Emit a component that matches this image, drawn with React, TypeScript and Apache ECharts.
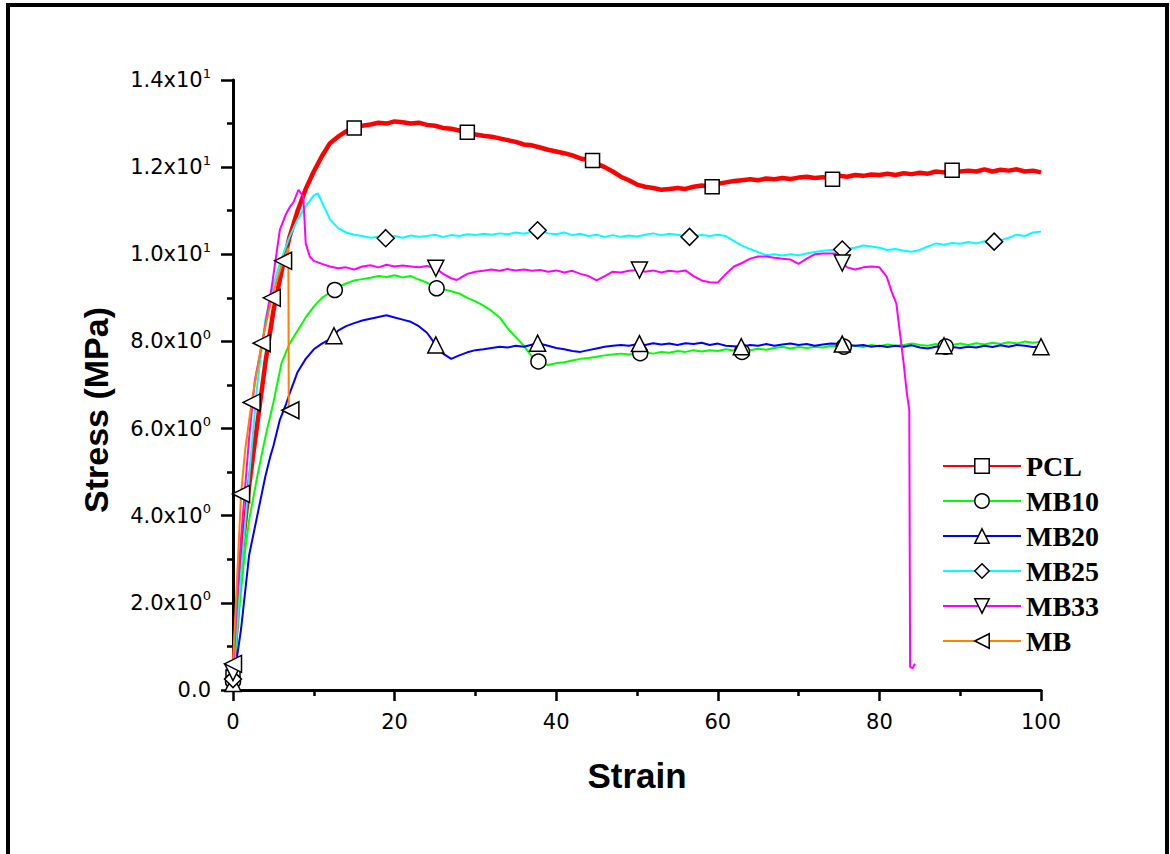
import React, { useEffect, useRef } from "react";
import * as echarts from "echarts";

// ---------- data (strain, stress in MPa) ----------
const PCL: [number, number][] = [
  [0, 0.3], [1, 3.0], [2, 4.7], [3, 6.1], [4, 7.5], [5, 8.7], [6, 9.6], [7, 10.4], [8, 11.0], [9, 11.5],
  [10, 11.9], [11, 12.25], [12, 12.55], [13, 12.7], [14, 12.82], [15, 12.9], [16, 12.95], [17, 12.98], [18, 13.02], [19, 13.0],
  [20, 13.05], [21, 13.03], [22, 13.0], [23, 13.02], [24, 12.97], [25, 12.95], [26, 12.9], [27, 12.88], [28, 12.84], [29, 12.8],
  [30, 12.75], [31, 12.72], [32, 12.7], [33, 12.66], [34, 12.62], [35, 12.58], [36, 12.52], [37, 12.5], [38, 12.45], [39, 12.4],
  [40, 12.36], [41, 12.32], [42, 12.27], [43, 12.2], [44.5, 12.15], [45, 12.08], [46, 12.0], [47, 11.9], [48, 11.78], [49, 11.7],
  [50, 11.6], [51, 11.55], [52, 11.52], [53, 11.48], [54, 11.5], [55, 11.52], [56, 11.5], [57, 11.55], [58, 11.58], [59.3, 11.55],
  [60, 11.62], [61, 11.65], [62, 11.68], [63, 11.7], [64, 11.72], [65, 11.7], [66, 11.74], [67, 11.72], [68, 11.75], [69, 11.73],
  [70, 11.76], [71, 11.78], [72, 11.75], [73, 11.77], [74.2, 11.72], [75, 11.8], [76, 11.78], [77, 11.82], [78, 11.8], [79, 11.83],
  [80, 11.82], [81, 11.85], [82, 11.82], [83, 11.86], [84, 11.84], [85, 11.87], [86, 11.85], [87, 11.9], [88, 11.88], [89, 11.93],
  [90, 11.9], [91, 11.92], [92, 11.9], [93, 11.95], [94, 11.9], [95, 11.94], [96, 11.92], [97, 11.95], [98, 11.9], [99, 11.92], [100, 11.88],
];
const PCL_MARKS = [0, 15, 29, 44.5, 59.3, 74.2, 89];

const MB10: [number, number][] = [
  [0, 0.2], [0.5, 1.3], [1, 2.3], [1.5, 3.2], [2, 3.9], [3, 4.9], [4, 5.8], [5, 6.6], [6, 7.5], [7, 7.95], [8, 8.25], [9, 8.55],
  [10, 8.8], [11, 9.0], [12, 9.12], [12.6, 9.18], [13, 9.25], [14, 9.33], [15, 9.4], [16, 9.43], [17, 9.46], [18, 9.5], [19, 9.48],
  [20, 9.52], [21, 9.47], [22, 9.5], [23, 9.42], [24, 9.35], [25.2, 9.22], [26, 9.2], [27, 9.15], [28, 9.1], [29, 9.0],
  [30, 8.92], [31, 8.82], [32, 8.7], [33, 8.55], [34, 8.3], [35, 8.1], [36, 7.9], [37, 7.65], [37.8, 7.54], [39, 7.46],
  [40, 7.5], [41, 7.52], [42, 7.56], [43, 7.6], [44, 7.62], [45, 7.65], [46, 7.68], [47, 7.7], [48, 7.72], [49, 7.7],
  [50.4, 7.73], [51, 7.75], [52, 7.72], [53, 7.76], [54, 7.74], [55, 7.78], [56, 7.76], [57, 7.8], [58, 7.77], [59, 7.8],
  [60, 7.78], [61, 7.82], [62, 7.79], [63, 7.76], [64, 7.8], [65, 7.83], [66, 7.81], [67, 7.85], [68, 7.88], [69, 7.84],
  [70, 7.87], [71, 7.85], [72, 7.88], [73, 7.86], [74, 7.9], [75.6, 7.88], [77, 7.9], [78, 7.87], [79, 7.92],
  [80, 7.89], [81, 7.93], [82, 7.9], [83, 7.92], [84, 7.95], [85, 7.92], [86, 7.9], [87, 7.94], [88.2, 7.88], [89, 7.92],
  [90, 7.95], [91, 7.92], [92, 7.96], [93, 7.93], [94, 7.97], [95, 7.94], [96, 7.98], [97, 7.95], [98, 8.0], [99, 7.97], [100, 7.99],
];
const MB10_MARKS = [0, 12.6, 25.2, 37.8, 50.4, 63, 75.6, 88.2];

const MB20: [number, number][] = [
  [0, 0.15], [0.5, 0.76], [1, 1.4], [2, 3.1], [3, 4.0], [4, 4.9], [4.6, 5.35], [5, 5.6], [5.8, 6.2], [6.6, 6.58], [7, 6.8], [8, 7.3], [9, 7.6],
  [10, 7.82], [11, 7.95], [12, 8.05], [12.5, 8.13], [13, 8.25], [14, 8.35], [15, 8.42], [16, 8.48], [17, 8.52], [18, 8.56], [19, 8.6],
  [20, 8.55], [21, 8.5], [22, 8.45], [23, 8.35], [24, 8.2], [25.1, 7.92], [26, 7.72], [27, 7.6], [28, 7.68], [29, 7.75],
  [30, 7.8], [31, 7.82], [32, 7.85], [33, 7.88], [34, 7.86], [35, 7.9], [36, 7.88], [37.7, 7.96], [39, 7.9],
  [40, 7.85], [41, 7.82], [42, 7.78], [43, 7.76], [44, 7.8], [45, 7.84], [46, 7.88], [47, 7.9], [48, 7.92], [49, 7.9],
  [50.3, 7.95], [51, 7.92], [52, 7.96], [53, 7.93], [54, 7.95], [55, 7.92], [56, 7.96], [57, 7.94], [58, 7.97], [59, 7.92],
  [60, 7.95], [61, 7.9], [62.9, 7.88], [64, 7.92], [65, 7.9], [66, 7.94], [67, 7.9], [68, 7.93], [69, 7.95],
  [70, 7.92], [71, 7.94], [72, 7.9], [73, 7.93], [74, 7.95], [75.4, 7.94], [77, 7.9], [78, 7.92], [79, 7.88],
  [80, 7.9], [81, 7.87], [82, 7.9], [83, 7.88], [84, 7.91], [85, 7.86], [86, 7.84], [87, 7.88], [88, 7.9], [89, 7.87],
  [90, 7.85], [91, 7.88], [92, 7.86], [93, 7.9], [94, 7.87], [95, 7.91], [96, 7.88], [97, 7.92], [98, 7.9], [99, 7.87], [100, 7.88],
];
const MB20_MARKS = [0, 12.5, 25.1, 37.7, 50.3, 62.9, 75.4, 88, 100];

const MB25: [number, number][] = [
  [0, 0.25], [0.5, 1.5], [1, 2.7], [2, 4.9], [3, 7.0], [4, 8.5], [5, 9.3], [6, 9.9], [7, 10.4], [8, 10.8], [9, 11.1],
  [10, 11.35], [10.5, 11.4], [11, 11.2], [12, 10.8], [13, 10.6], [14, 10.5], [15, 10.45], [16, 10.42], [17, 10.38], [18, 10.4], [18.9, 10.37],
  [20, 10.42], [21, 10.38], [22, 10.43], [23, 10.4], [24, 10.42], [25, 10.45], [26, 10.4], [27, 10.44], [28, 10.42], [29, 10.46],
  [30, 10.44], [31, 10.47], [32, 10.45], [33, 10.48], [34, 10.46], [35, 10.5], [36, 10.47], [37.7, 10.55], [39, 10.48],
  [40, 10.46], [41, 10.5], [42, 10.44], [43, 10.47], [44, 10.42], [45, 10.45], [46, 10.4], [47, 10.44], [48, 10.4], [49, 10.43],
  [50, 10.41], [51, 10.45], [52, 10.48], [53, 10.44], [54, 10.47], [55, 10.45], [56.5, 10.4], [58, 10.44], [59, 10.42],
  [60, 10.45], [61, 10.42], [62, 10.3], [63, 10.2], [64, 10.12], [65, 10.05], [66, 9.98], [67, 10.0], [68, 9.97], [69, 10.0],
  [70, 9.98], [71, 10.02], [72, 10.05], [73, 10.08], [74, 10.1], [75.4, 10.11], [77, 10.15], [78, 10.2], [79, 10.18],
  [80, 10.15], [81, 10.1], [82, 10.12], [83, 10.08], [84, 10.06], [85, 10.1], [86, 10.18], [87, 10.25], [88, 10.22], [89, 10.26],
  [90, 10.24], [91, 10.28], [92, 10.25], [93, 10.3], [94.2, 10.29], [95, 10.32], [96, 10.38], [97, 10.45], [98, 10.42], [99, 10.5], [100, 10.52],
];
const MB25_MARKS = [0, 18.9, 37.7, 56.5, 75.4, 94.2];

const MB33: [number, number][] = [
  [0, 0.4], [0.5, 2.0], [1, 3.5], [2, 5.8], [2.7, 7.1], [3.75, 8.1], [4.8, 9.26], [5.8, 10.56], [6.5, 10.9], [7.05, 11.09], [7.5, 11.2],
  [8.1, 11.48], [8.7, 11.32], [9.0, 10.25], [9.5, 9.95], [10, 9.85], [11, 9.78], [12, 9.72], [13, 9.68], [14, 9.7], [15, 9.65],
  [16, 9.72], [17, 9.75], [18, 9.7], [19, 9.76], [20, 9.72], [21, 9.74], [22, 9.72], [23, 9.7], [24, 9.73], [25.1, 9.68],
  [26, 9.55], [27, 9.45], [27.7, 9.41], [28.5, 9.5], [29, 9.55], [30, 9.6], [31, 9.62], [32, 9.65], [33, 9.62], [34, 9.66],
  [35, 9.63], [36, 9.65], [37, 9.62], [38, 9.64], [39, 9.6], [40, 9.63], [41, 9.58], [42, 9.62], [43, 9.55], [44, 9.5],
  [45, 9.4], [46, 9.5], [47, 9.6], [48, 9.58], [49, 9.62], [50.3, 9.64], [51, 9.6], [52, 9.63], [53, 9.58], [54, 9.62],
  [55, 9.6], [56, 9.63], [57, 9.5], [58, 9.4], [59, 9.36], [60, 9.35], [61, 9.55], [62, 9.72], [63, 9.8], [64, 9.9],
  [65, 9.95], [66, 9.95], [67, 9.92], [68, 9.9], [69, 9.88], [70, 9.78], [71, 9.9], [72, 10.0], [73, 10.02], [74.5, 10.02],
  [75.4, 9.8], [76, 9.7], [77, 9.65], [78, 9.7], [79, 9.72], [80, 9.7], [80.9, 9.49], [81.5, 9.15], [82.1, 8.87], [82.5, 8.26],
  [83.0, 7.5], [83.4, 6.81], [83.7, 6.43], [83.8, 0.53], [84.1, 0.5], [84.4, 0.6],
];
const MB33_MARKS = [0, 25.1, 50.3, 75.4];

const MB: [number, number][] = [
  [0, 0.6], [1.0, 4.5], [1.5, 5.5], [2.3, 6.6], [3.0, 7.35], [3.55, 7.96], [4.2, 8.5], [4.8, 9.0], [5.5, 9.45], [6.2, 9.85],
  [6.85, 10.15], [6.9, 6.5], [7.1, 6.42],
];
const MB_MARKS = [0, 1.0, 2.3, 3.55, 4.8, 6.2, 7.1];

const SERIES_NAMES = ["PCL", "MB10", "MB20", "MB25", "MB33", "MB"];
const X_TICKS = [0, 20, 40, 60, 80, 100];
const Y_TICKS = [0, 2, 4, 6, 8, 10, 12, 14];

// ---------- helpers ----------
function buildData(points: [number, number][], marks: number[]) {
  return points.map(([x, y]) =>
    marks.includes(x) ? { value: [x, y] } : { value: [x, y], symbol: "none" }
  );
}

function yLabel(v: number): string {
  if (v === 0) return "{m|0.0}";
  const e = Math.floor(Math.log10(v) + 1e-9);
  const m = v / Math.pow(10, e);
  return `{m|${m.toFixed(1)}x10}{e|${e}}`;
}

const TICK_FONT = "DejaVu Sans, Liberation Sans, Arial";
const markerStyle = { color: "#ffffff", borderColor: "#000000", borderWidth: 1.5 };

export default function App() {
  const ref = useRef<HTMLDivElement>(null);

  useEffect(() => {
    document.body.style.margin = "0";
    if (!ref.current) return;
    const chart = echarts.init(ref.current, undefined, { renderer: "svg" });

    const defs = [
      { name: SERIES_NAMES[0], pts: PCL, marks: PCL_MARKS, color: "#ff0000", symbol: "rect", size: 14, rotate: 0, width: 4.5 },
      { name: SERIES_NAMES[1], pts: MB10, marks: MB10_MARKS, color: "#00ff00", symbol: "circle", size: 15, rotate: 0, width: 2 },
      { name: SERIES_NAMES[2], pts: MB20, marks: MB20_MARKS, color: "#0000ff", symbol: "triangle", size: 16, rotate: 0, width: 2 },
      { name: SERIES_NAMES[3], pts: MB25, marks: MB25_MARKS, color: "#00ffff", symbol: "diamond", size: 17, rotate: 0, width: 2 },
      { name: SERIES_NAMES[4], pts: MB33, marks: MB33_MARKS, color: "#ff00ff", symbol: "triangle", size: 16, rotate: 180, width: 2 },
      { name: SERIES_NAMES[5], pts: MB, marks: MB_MARKS, color: "#ff8000", symbol: "triangle", size: 17, rotate: 90, width: 2 },
    ];

    const series = defs.map((d) => ({
      type: "line",
      name: d.name,
      data: buildData(d.pts, d.marks),
      symbol: d.symbol,
      symbolSize: d.size,
      symbolRotate: d.rotate,
      showSymbol: true,
      lineStyle: { color: d.color, width: d.width },
      itemStyle: markerStyle,
      emphasis: { disabled: true },
    }));

    chart.setOption({
      animation: false,
      backgroundColor: "#ffffff",
      grid: { left: 233, right: 129, top: 80, bottom: 164, containLabel: false },
      xAxis: {
        type: "value",
        min: X_TICKS[0],
        max: X_TICKS[X_TICKS.length - 1],
        interval: 20,
        name: "Strain",
        nameLocation: "middle",
        nameGap: 68,
        nameTextStyle: { fontFamily: "Liberation Sans, Arial", fontWeight: "bold", fontSize: 35, color: "#000" },
        axisLine: { lineStyle: { color: "#000", width: 3 } },
        axisTick: { show: true, inside: false, length: 11, lineStyle: { color: "#000", width: 2.5 } },
        minorTick: { show: true, splitNumber: 2, length: 6, lineStyle: { color: "#000", width: 2.5 } },
        splitLine: { show: false },
        axisLabel: { fontFamily: TICK_FONT, fontSize: 21, color: "#000", margin: 21 },
      },
      yAxis: {
        type: "value",
        min: Y_TICKS[0],
        max: Y_TICKS[Y_TICKS.length - 1],
        interval: 2,
        axisLine: { show: true, lineStyle: { color: "#000", width: 3 } },
        axisTick: { show: true, inside: false, length: 12, lineStyle: { color: "#000", width: 2.5 } },
        minorTick: { show: true, splitNumber: 2, length: 6, lineStyle: { color: "#000", width: 2.5 } },
        splitLine: { show: false },
        axisLabel: {
          margin: 22,
          formatter: (v: number) => yLabel(v),
          rich: {
            m: { fontFamily: TICK_FONT, fontSize: 21, color: "#000" },
            e: { fontFamily: TICK_FONT, fontSize: 13, color: "#000", padding: [0, 0, 14, 0] },
          },
        },
      },
      legend: {
        orient: "vertical",
        left: 942,
        top: 452,
        padding: 0,
        itemWidth: 78,
        itemHeight: 18,
        itemGap: 7,
        data: SERIES_NAMES,
        textStyle: { fontFamily: "Liberation Serif, Times New Roman", fontWeight: "bold", fontSize: 28, color: "#000" },
        lineStyle: { width: 2 },
        itemStyle: { borderWidth: 1.5 },
        selectedMode: false,
      },
      graphic: [
        {
          type: "rect",
          shape: { x: 8, y: 5, width: 1159, height: 900 },
          style: { fill: "none", stroke: "#000", lineWidth: 4 },
          silent: true,
        },
        {
          type: "text",
          x: 96,
          y: 410,
          rotation: Math.PI / 2,
          style: {
            text: "Stress (MPa)",
            font: "bold 34px 'Liberation Sans', Arial",
            fill: "#000",
            textAlign: "center",
            textVerticalAlign: "middle",
          },
          silent: true,
        },
      ],
      series,
    });

    return () => chart.dispose();
  }, []);

  return <div ref={ref} style={{ width: 1170, height: 854 }} />;
}
